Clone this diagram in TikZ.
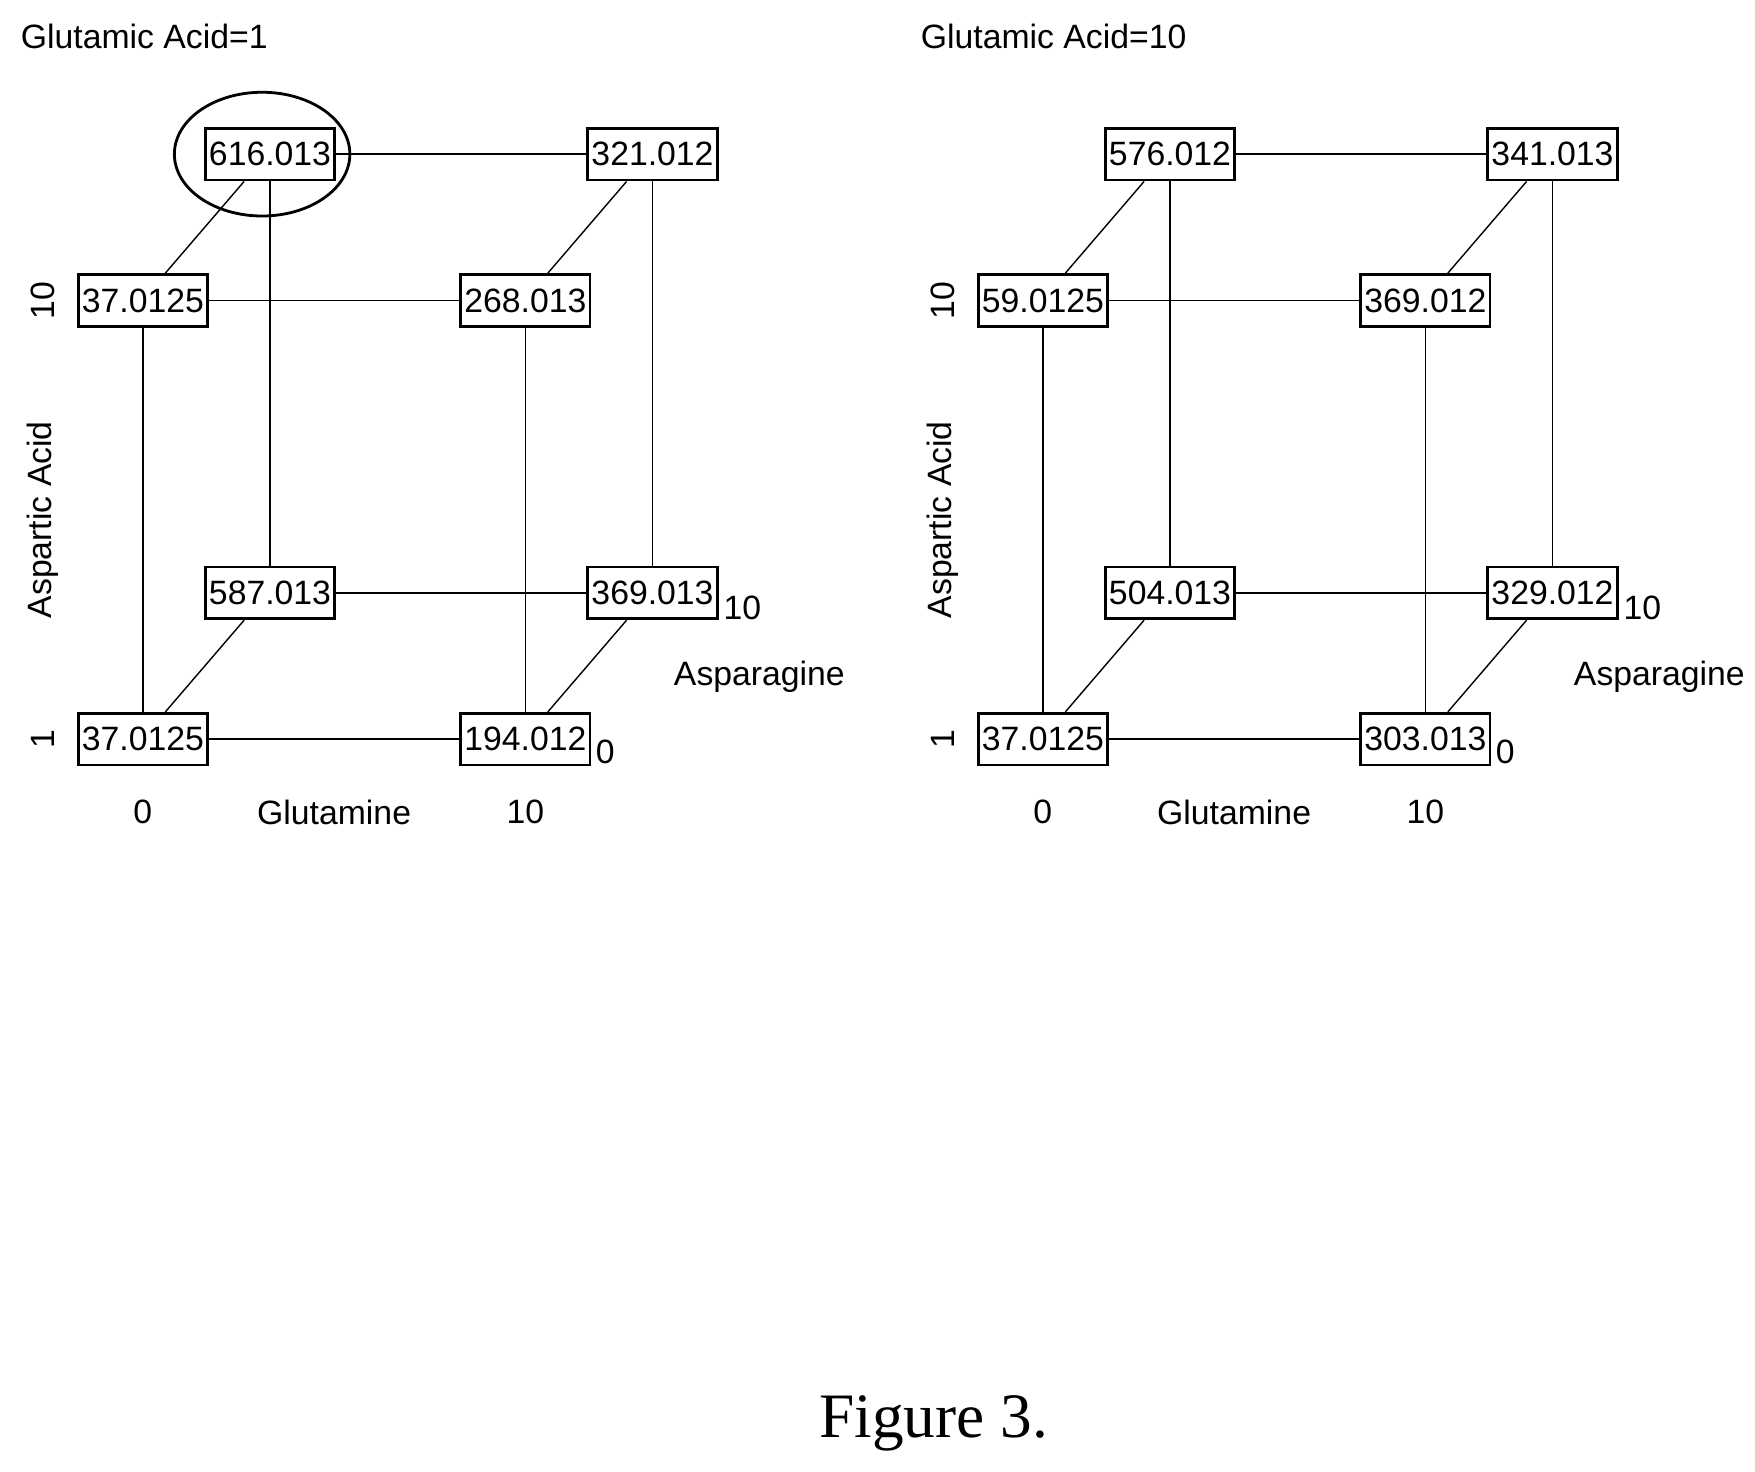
\documentclass[tikz,border=0pt]{standalone}
\usepackage{fontspec}
\setmainfont{Liberation Sans}
\newfontfamily\figfont{Liberation Serif}
\usetikzlibrary{calc}
\tikzset{
	val/.style={draw,thick,minimum width=115*0.01125cm,minimum height=46*0.01125cm,inner sep=0pt,font=\fontsize{9.6}{12}\selectfont},
	lbl/.style={font=\fontsize{9.6}{12}\selectfont,inner sep=0pt},
	edge/.style={thin}
}
% one cube: prefix, then front TL, TR, BL, BR, back TL, TR, BL, BR
\newcommand{\panel}[9]{
		\node[val] (#1fa) at (127,267) {#2};
		\node[val] (#1fb) at (467,267) {#3};
		\node[val] (#1fc) at (127,657) {#4};
		\node[val] (#1fd) at (467,657) {#5};
		\node[val] (#1ba) at (240,137) {#6};
		\node[val] (#1bb) at (580,137) {#7};
		\node[val] (#1bc) at (240,527) {#8};
		\node[val] (#1bd) at (580,527) {#9};
		%
		\path[edge]
		% horizontal
		(#1ba) edge (#1bb)
		(#1bc) edge (#1bd)
		(#1fa) edge (#1fb)
		(#1fc) edge (#1fd)
		% vertical
		(#1ba) edge (#1bc)
		(#1bb) edge (#1bd)
		(#1fa) edge (#1fc)
		(#1fb) edge (#1fd)
		% depth
		($(#1ba.south)+(-23,0)$) edge ($(#1fa.north)+(20,0)$)
		($(#1bb.south)+(-23,0)$) edge ($(#1fb.north)+(20,0)$)
		($(#1bc.south)+(-23,0)$) edge ($(#1fc.north)+(20,0)$)
		($(#1bd.south)+(-23,0)$) edge ($(#1fd.north)+(20,0)$);
		% axes
		\node[lbl,rotate=90] (#1ya) at (38,267) {10};
		\node[lbl,rotate=90] (#1yb) at (38,657) {1};
		\node[lbl,rotate=90] (#1yt) at (38,462) {Aspartic Acid};
		\node[lbl] (#1xa) at (127,722) {0};
		\node[lbl] (#1xt) at (297,722) {Glutamine};
		\node[lbl] (#1xb) at (467,722) {10};
		\node[lbl] (#1za) at (538,668) {0};
		\node[lbl] (#1zb) at (660,540) {10};
		\node[lbl] (#1zt) at (675,602) {Asparagine};
}
\begin{document}
\begin{tikzpicture}[x=0.01125cm,y=-0.01125cm]
		\useasboundingbox (0,0) rectangle (1560,1308);
		\panel{l}{37.0125}{268.013}{37.0125}{194.012}{616.013}{321.012}{587.013}{369.013}
		\begin{scope}[xshift=800*0.01125cm]
		\panel{r}{59.0125}{369.012}{37.0125}{303.013}{576.012}{341.013}{504.013}{329.012}
		\end{scope}
		%
		\draw[thick] (233,137) ellipse [x radius=78,y radius=55];
		\node[lbl,anchor=west] (ltitle) at (18,32) {Glutamic Acid=1};
		\node[lbl,anchor=west] (rtitle) at (818,32) {Glutamic Acid=10};
		\node[font=\figfont\fontsize{18}{22}\selectfont] (cap) at (830,1265) {Figure 3.};
\end{tikzpicture}
\end{document}
